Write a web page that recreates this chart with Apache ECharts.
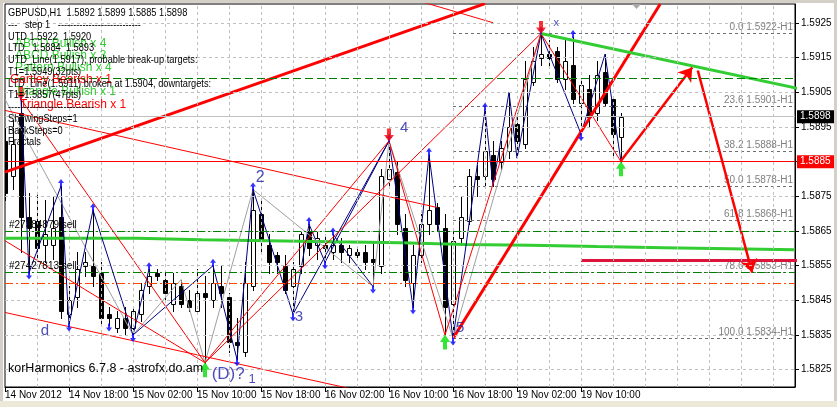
<!DOCTYPE html>
<html><head><meta charset="utf-8">
<script src="https://cdn.jsdelivr.net/npm/echarts@6.0.0/dist/echarts.min.js"></script>
<style>html,body{margin:0;padding:0;background:#fff;}#c{width:837px;height:407px;}</style>
</head><body><div id="c"></div>
<script>
// ---------- DATA ----------
const barOpen = [1.5891,1.5881,1.5899,1.5869,1.5868,1.5861,1.5861,1.5869,1.5841,1.5846,
1.5855,1.5855,1.5853,1.5841,1.5837,1.5840,1.5837,1.5841,1.5849,1.5853,
1.5851,1.5844,1.5849,1.5845,1.5842,1.5847,1.5845,1.5849,1.5846,1.5833,
1.5830,1.5849,1.5870,1.5861,1.5858,1.5855,1.5849,1.5855,1.5865,1.5861,
1.5861,1.5859,1.5861,1.5858,1.5859,1.5859,1.5857,1.5855,1.5880,1.5882,
1.5866,1.5850,1.5858,1.5867,1.5872,1.5866,1.5844,1.5863,1.5868,1.5881,
1.5881,1.5887,1.5885,1.5888,1.5896,1.5890,1.5908,1.5915,1.5916,1.5917,
1.5909,1.5913,1.5902,1.5906,1.5899,1.5911,1.5903,1.5892];
const barHigh = [1.5895,1.5897,1.5903,1.5876,1.5876,1.5874,1.5875,1.5878,1.5849,1.5859,
1.5859,1.5871,1.5856,1.5843,1.5842,1.5843,1.5843,1.5850,1.5854,1.5854,
1.5853,1.5853,1.5851,1.5848,1.5854,1.5852,1.5855,1.5855,1.5847,1.5840,
1.5856,1.5877,1.5874,1.5864,1.5859,1.5858,1.5856,1.5865,1.5867,1.5865,
1.5864,1.5864,1.5863,1.5861,1.5860,1.5861,1.5862,1.5883,1.5891,1.5885,
1.5870,1.5861,1.5870,1.5887,1.5873,1.5870,1.5865,1.5875,1.5883,1.5884,
1.5900,1.5891,1.5891,1.5905,1.5899,1.5914,1.5918,1.5922,1.5920,1.5918,
1.5920,1.5921,1.5909,1.5910,1.5914,1.5916,1.5904,1.5899];
const barLow = [1.5874,1.5877,1.5859,1.5853,1.5857,1.5856,1.5857,1.5840,1.5838,1.5843,
1.5852,1.5849,1.5838,1.5838,1.5836,1.5835,1.5835,1.5839,1.5847,1.5851,
1.5845,1.5842,1.5843,1.5842,1.5841,1.5827,1.5843,1.5843,1.5830,1.5828,
1.5829,1.5848,1.5859,1.5853,1.5853,1.5847,1.5841,1.5853,1.5858,1.5857,
1.5856,1.5857,1.5856,1.5856,1.5857,1.5854,1.5849,1.5853,1.5878,1.5864,
1.5849,1.5843,1.5856,1.5864,1.5865,1.5835,1.5834,1.5861,1.5867,1.5875,
1.5878,1.5878,1.5883,1.5886,1.5886,1.5889,1.5907,1.5913,1.5913,1.5908,
1.5906,1.5902,1.5893,1.5895,1.5897,1.5901,1.5887,1.5885];
const barClose = [1.5876,1.5890,1.5869,1.5866,1.5860,1.5864,1.5866,1.5842,1.5845,1.5854,
1.5856,1.5852,1.5840,1.5840,1.5840,1.5837,1.5842,1.5848,1.5852,1.5852,
1.5847,1.5850,1.5844,1.5843,1.5847,1.5846,1.5850,1.5847,1.5833,1.5832,
1.5850,1.5871,1.5862,1.5856,1.5856,1.5848,1.5854,1.5864,1.5860,1.5863,
1.5860,1.5861,1.5859,1.5860,1.5858,1.5856,1.5856,1.5881,1.5883,1.5867,
1.5851,1.5858,1.5867,1.5871,1.5867,1.5843,1.5862,1.5869,1.5881,1.5880,
1.5888,1.5880,1.5889,1.5895,1.5891,1.5909,1.5914,1.5916,1.5915,1.5909,
1.5914,1.5903,1.5907,1.5898,1.5910,1.5902,1.5893,1.5898];

const timeTickK = [0,8,16,24,32,40,48,56,64,72];
const timeTickLabels = ['14 Nov 2012','14 Nov 18:00','15 Nov 02:00','15 Nov 10:00','15 Nov 18:00',
  '16 Nov 02:00','16 Nov 10:00','16 Nov 18:00','19 Nov 02:00','19 Nov 10:00'];
const priceTicks = [1.5825,1.5835,1.5845,1.5855,1.5865,1.5875,1.5885,1.5895,1.5905,1.5915,1.5925];
const vGridK = [4,8,12,16,20,24,28,32,36,40,44,48,52,56,60,64,68,72,76,80,84,88,92,96];

// zigzags (bar index, price)
const navyK = [2,3,7,8,11,16,26,29,31,36,48,51,53,56,60,61,63,64,67,72,75,77];
const navyP = [1.5903,1.5853,1.5878,1.5838,1.5871,1.5835,1.5855,1.5828,1.5877,1.5841,1.5891,1.5843,1.5887,1.5834,1.5900,1.5878,1.5905,1.5886,1.5922,1.5893,1.5916,1.5885];
const navyExtra = [[16,1.5835,18,1.5854],[36,1.5841,38,1.5867],[38,1.5867,40,1.5856],[40,1.5856,48,1.5891],[41,1.5864,46,1.5849]];
const greyK = [0,16,22,25,31,46,48,56,67];
const greyP = [1.5903,1.5835,1.5851,1.5827,1.5877,1.5849,1.5891,1.5834,1.5922];

// pattern / triangle lines [k1,p1,k2,p2]
const thinRedSegs = [[0,1.58998,54,1.58718],[0,1.58415,45,1.58186],[2,1.5903,25,1.5827],[0,1.58622,25,1.5827],
  [25,1.5827,48,1.5891],[25,1.5827,67,1.5922],[48,1.5891,55,1.5835],[55,1.5835,67,1.5922],
  [67,1.5922,77,1.5885],[52,1.59312,61,1.59251]];
const thickRedSegs = [[0,1.5882,60,1.59306],[56,1.5834,81.9,1.59305]];
const arrowSegs = [[77,1.58853,85.9,1.59122],[86.6,1.59113,93.4,1.5853]];
const greenTrend = [[67,1.5922,100,1.59057]];
const crimsonLevel = [[72,1.58565,100,1.58565]];

// stepped moving average
const maK = [0,16.5,24.6,32.8,41,49.4,57.5,65.6,74,82.3,90.6,98.75];
const maV = [1.58629,1.58625,1.58622,1.58619,1.58616,1.58611,1.58609,1.58605,1.58602,1.58599,1.58596,1.58596];

// horizontal levels
const bidPrice = 1.5898;
const supportLevel = 1.5885;
const targetLevel = 1.5909;
const orderLevels = [1.5865, 1.5853];
const orderLabels = ['#27384879 sell', '#27427813 sell'];
const stopLevel = 1.5850;

// fibonacci
const fibStartK = 56;
const fibRatios = ['0.0','23.6','38.2','50.0','61.8','78.6','100.0'];
const fibPrices = [1.5922,1.5901,1.5888,1.5878,1.5868,1.5853,1.5834];

// markers
const upFractalK = [2,7,11,18,26,31,38,41,48,53,60,67,71];
const downFractalK = [3,8,13,16,29,36,40,46,51,56,72];
const redArrowK = [2,48,67];
const greenArrowK = [25,55,77];

// pattern point labels
const ptLabelK = [5,31.9,36.75,49.9,56.9,27.9,30.9,68.9];
const ptLabelP = [1.58363,1.58804,1.58403,1.58948,1.58371,1.58238,1.58221,1.59251];
const ptLabelText = ['d','2','3','4','5','(D)?','1','x'];

const infoLines = ['GBPUSD,H1  1.5892 1.5899 1.5885 1.5898','---   step 1   ---------------------------',
 'UTD 1.5922  1.5920','LTD   1.5884  1.5893','UTD_Line(1.5917), probable break-up targets:',
 'T1=1.5949(32pts)','LTD_Line(1.5911) broken at 1.5904, downtargets:','T1=1.5857(47pts)',
 '----------------------------','ShowingSteps=1','BackSteps=0','Fractals'];
const patternTexts = ['ABCD Bullish x 4','ABCD Bullish x 3','Pattern Bullish x 4','Gartley Bearish x 1','Triangle Bullish x 1','Triangle Bearish x 1'];
const patternBull = [true,true,true,false,true,false];
const footerText = 'korHarmonics 6.7.8 - astrofx.do.am';

// ---------- FONTS ----------
function fontAvailable(name){
  const ctx = document.createElement('canvas').getContext('2d');
  const s = 'GBPUSD,H1 1.5925 Nov 02:00';
  ctx.font = '20px monospace'; const a = ctx.measureText(s).width;
  ctx.font = "20px '" + name + "', monospace"; const b = ctx.measureText(s).width;
  return Math.abs(a - b) > 0.5;
}
const hasNarrow = fontAvailable('Liberation Sans Narrow');
const SANS = "'Liberation Sans',Arial,sans-serif";
const NARROW = hasNarrow ? "'Liberation Sans Narrow','Liberation Sans',sans-serif" : SANS;
const AX_SIZE = hasNarrow ? 11 : 10;
const INFO_SCALE = hasNarrow ? 1 : 0.84;

// ---------- CHART ----------
const X_MIN = 0, X_MAX = 98.75, Y_MIN = 1.5820, Y_MAX = 1.59305;
const chart = echarts.init(document.getElementById('c'), null, {renderer:'canvas'});

const seg = s => ({coords:[[s[0],s[1]],[s[2],s[3]]]});
const linesSeries = (segs, style, extra) => Object.assign({
  type:'lines', coordinateSystem:'cartesian2d', clip:true, silent:true, animation:false,
  data: segs.map(seg), lineStyle: Object.assign({opacity:1}, style)}, extra||{});
const hLine = (p, lineStyle, label) => [{coord:[X_MIN,p], lineStyle, label: label || {show:false}}, {coord:[X_MAX,p]}];
const vLine = (k, lineStyle) => [{coord:[k,Y_MIN], lineStyle}, {coord:[k,Y_MAX]}];
const hiddenData = [[X_MIN, Y_MIN], [X_MAX, Y_MAX]];

const upArrowPath = 'path://M3,0 L6,4 L4,4 L4,8 L2,8 L2,4 L0,4 Z';
const downArrowPath = 'path://M2,0 L4,0 L4,4 L6,4 L3,8 L0,4 L2,4 Z';
const bigDownPath = 'path://M3,0 L7,0 L7,6 L10,6 L5,12 L0,6 L3,6 Z';
const bigUpPath = 'path://M5,0 L10,6 L7,6 L7,12 L3,12 L3,6 L0,6 Z';

const labelSizes = {'d':15,'2':16,'3':15,'4':15,'5':15,'(D)?':17,'1':13,'x':11};

const graphics = [];
infoLines.forEach((t,i)=>graphics.push({type:'text', x:8, y:13+11.75*i, z:100, scaleX: INFO_SCALE,
  style:{text:t, font:"11px "+NARROW, fill:'#000', verticalAlign:'middle'}}));
const patY = [44,55.5,68,80,91.5,104.5];
const patX = [15,15,15,10,15,20];
patternTexts.forEach((t,i)=>graphics.push({type:'text', x:patX[i], y:patY[i], z:99,
  style:{text:t, font:"12px "+SANS, fill: patternBull[i] ? '#32cd32' : '#ff0000', verticalAlign:'middle'}}));
graphics.push({type:'text', x:8, y:369, z:100, style:{text:footerText, font:"12.5px "+SANS, fill:'#000', verticalAlign:'middle'}});
graphics.push({type:'polygon', z:100, shape:{points:[[632,4],[641,4],[636.5,9]]}, style:{fill:'#a8a8a8'}});
graphics.push({type:'rect', z:100, shape:{x:0,y:0,width:837,height:3}, style:{fill:'#d4d0c8'}});
graphics.push({type:'rect', z:100, shape:{x:0,y:0,width:3,height:407}, style:{fill:'#d4d0c8'}});
graphics.push({type:'rect', z:100, shape:{x:834,y:0,width:3,height:407}, style:{fill:'#d4d0c8'}});
graphics.push({type:'rect', z:100, shape:{x:0,y:401,width:837,height:6}, style:{fill:'#ece9d8'}});

const gridStyle = {color:'#c0c0c0', type:[3,3], width:1};
const priceTag = (v, bg) => ({show:true, position:'end', distance:2, formatter: v.toFixed(4), color:'#fff', backgroundColor:bg,
  fontSize:AX_SIZE, fontFamily:NARROW, padding:[1,5,0,3], lineHeight:12});
const orderTag = t => ({show:true, position:'insideStartTop', formatter:t, color:'#000', fontSize:AX_SIZE, fontFamily:NARROW, distance:[4,1]});

const option = {
  animation:false,
  backgroundColor:'#fff',
  grid:{left:5, top:4, width:790, height:383, show:true, borderColor:'#000', borderWidth:1, backgroundColor:'#fff'},
  xAxis:{type:'value', min:X_MIN, max:X_MAX, position:'bottom',
    axisLine:{show:true, onZero:false, lineStyle:{color:'#000', width:1}},
    axisTick:{show:true, customValues:timeTickK, length:5, lineStyle:{color:'#000'}},
    axisLabel:{show:true, customValues:timeTickK, margin:3, align:'left', color:'#000', fontSize:AX_SIZE, fontFamily:NARROW,
      formatter: v => { const i = timeTickK.indexOf(Math.round(v)); return i>=0 ? timeTickLabels[i] : ''; }},
    splitLine:{show:false}},
  yAxis:{type:'value', min:Y_MIN, max:Y_MAX, position:'right',
    axisLine:{show:true, onZero:false, lineStyle:{color:'#000', width:1}},
    axisTick:{show:true, customValues:priceTicks, length:4, lineStyle:{color:'#000'}},
    axisLabel:{show:true, customValues:priceTicks, margin:6, color:'#000', fontSize:AX_SIZE, fontFamily:NARROW,
      formatter: v => v.toFixed(4)},
    splitLine:{show:false}},
  graphic: graphics,
  series:[
    {type:'line', data:hiddenData, symbol:'none', lineStyle:{opacity:0}, z:1, silent:true, clip:false,
      markLine:{silent:true, symbol:'none', animation:false, label:{show:false},
        data:[...priceTicks.map(p=>hLine(p, gridStyle)), ...vGridK.map(k=>vLine(k, gridStyle))]}},
    {type:'custom', z:2, clip:true, silent:true,
      data: barOpen.map((o,i)=>[i, o, barClose[i], barLow[i], barHigh[i]]),
      encode:{x:0, y:[1,2,3,4]},
      renderItem:(params, api)=>{
        const k = api.value(0);
        const o = api.coord([k, api.value(1)]), c = api.coord([k, api.value(2)]);
        const l = api.coord([k, api.value(3)]), h = api.coord([k, api.value(4)]);
        const x = Math.round(o[0]);
        const bull = api.value(2) > api.value(1);
        const top = Math.round(Math.min(o[1], c[1])), bot = Math.round(Math.max(o[1], c[1]));
        return {type:'group', children:[
          {type:'line', shape:{x1:x+0.5, y1:Math.round(h[1]), x2:x+0.5, y2:Math.round(l[1])+1}, style:{stroke:'#000', lineWidth:1}},
          {type:'rect', shape:{x:x-1.5, y:top+0.5, width:4, height:Math.max(bot-top,0)}, style:{fill: bull?'#fff':'#000', stroke:'#000', lineWidth:1}}
        ]};
      }},
    {type:'line', z:3, step:'end', symbol:'none', silent:true, clip:true,
      data: maK.map((k,i)=>[k, maV[i]]), lineStyle:{color:'#32cd32', width:3}},
    {type:'line', data:hiddenData, symbol:'none', lineStyle:{opacity:0}, z:3, silent:true, clip:false,
      markLine:{silent:true, symbol:'none', animation:false,
        data:[
          hLine(targetLevel, {color:'#008000', type:[8,4], width:1}),
          hLine(orderLevels[0], {color:'#008000', type:[8,3,2,3], width:1}, orderTag(orderLabels[0])),
          hLine(orderLevels[1], {color:'#008000', type:[8,3,2,3], width:1}, orderTag(orderLabels[1])),
          hLine(stopLevel, {color:'#ff4500', type:[8,3,2,3], width:1}),
          hLine(bidPrice, {color:'#c0c0c0', type:'solid', width:1}, priceTag(bidPrice, '#000')),
          hLine(supportLevel, {color:'#ff0000', type:'solid', width:1}, priceTag(supportLevel, '#ff0000'))
        ]}},
    {type:'lines', coordinateSystem:'cartesian2d', clip:true, silent:true, z:3,
      data: fibPrices.map((p,i)=>({name: fibRatios[i]+' '+p.toFixed(4)+'-H1', coords:[[fibStartK,p],[X_MAX,p]]})),
      lineStyle:{color:'#6e6e6e', type:[3,3], width:1, opacity:1},
      label:{show:true, position:'insideEndTop', formatter:'{b}', color:'#808080', fontSize:10, fontFamily:SANS, distance:[2,1]}},
    {type:'line', z:3, symbol:'none', silent:true, clip:true, data: greyK.map((k,i)=>[k, greyP[i]]), lineStyle:{color:'#a0a0a0', width:1}},
    linesSeries(navyExtra, {color:'#000080', width:1}, {z:3}),
    {type:'line', z:3, symbol:'none', silent:true, clip:true, data: navyK.map((k,i)=>[k, navyP[i]]), lineStyle:{color:'#000080', width:1}},
    linesSeries(thinRedSegs, {color:'#ff0000', width:1}, {z:4}),
    linesSeries(thickRedSegs, {color:'#ff0000', width:3}, {z:4}),
    linesSeries(greenTrend, {color:'#32cd32', width:3}, {z:4}),
    linesSeries(crimsonLevel, {color:'#dc143c', width:3}, {z:4}),
    linesSeries(arrowSegs, {color:'#ff0000', width:2.5}, {z:4, symbol:['none','arrow'], symbolSize:[1,13]}),
    {type:'scatter', z:5, silent:true, symbol:upArrowPath, symbolSize:[6,8], symbolOffset:[0,-3],
      data: upFractalK.map(k=>[k, barHigh[k]]), itemStyle:{color:'#0000ff'}},
    {type:'scatter', z:5, silent:true, symbol:downArrowPath, symbolSize:[6,8], symbolOffset:[0,3],
      data: downFractalK.map(k=>[k, barLow[k]]), itemStyle:{color:'#0000ff'}},
    {type:'scatter', z:5, silent:true, symbol:bigDownPath, symbolSize:[10,13], symbolOffset:[0,-6],
      data: redArrowK.map(k=>[k, barHigh[k]]), itemStyle:{color:'#ff0000'}},
    {type:'scatter', z:5, silent:true, symbol:bigUpPath, symbolSize:[10,15], symbolOffset:[0,7],
      data: greenArrowK.map(k=>[k, barLow[k]]), itemStyle:{color:'#00e000'}},
    {type:'scatter', z:6, silent:true, symbolSize:0,
      data: ptLabelK.map((k,i)=>({value:[k, ptLabelP[i]], label:{fontSize: labelSizes[ptLabelText[i]]}})),
      label:{show:true, position:'inside', color:'#2020a8', fontFamily:SANS,
        formatter: p => ptLabelText[p.dataIndex]}}
  ]
};
chart.setOption(option);
</script></body></html>
